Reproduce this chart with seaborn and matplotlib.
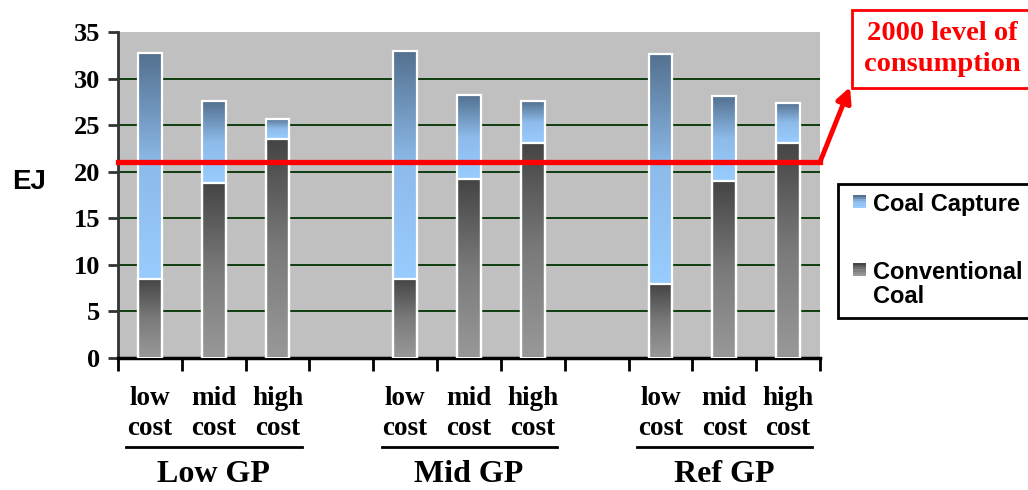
import matplotlib
matplotlib.use("Agg")
import matplotlib.pyplot as plt
import numpy as np
import pandas as pd
import seaborn as sns
from matplotlib.colors import LinearSegmentedColormap
from matplotlib.lines import Line2D
from matplotlib.patches import FancyArrowPatch, Rectangle

# Values (EJ)
GROUPS = ["Low GP", "Mid GP", "Ref GP"]
COSTS = ["low\ncost", "mid\ncost", "high\ncost"]
CONVENTIONAL = [8.5, 18.8, 23.5, 8.5, 19.2, 23.1, 7.9, 19.0, 23.1]
TOTAL = [32.7, 27.6, 25.7, 33.0, 28.2, 27.6, 32.6, 28.1, 27.4]
LEVEL_2000 = 21.0
Y_TICKS = [0, 5, 10, 15, 20, 25, 30, 35]
LEGEND_LABELS = ["Coal Capture", "Conventional\nCoal"]

SERIF = "Liberation Serif"
SANS = "Liberation Sans"
W, H = 1028, 490

capture_cmap = LinearSegmentedColormap.from_list("cap", ["#99CCFF", "#8DBBEA", "#53708F"])
conv_cmap = LinearSegmentedColormap.from_list("conv", ["#999999", "#7A7A7A", "#444444"])


def px(x, y):
    """Pixel position (from top-left) -> figure fraction."""
    return x / W, 1 - y / H


def gradient_fill(ax, patch, y0, y1, cmap):
    x0 = patch.get_x()
    x1 = x0 + patch.get_width()
    grad = np.linspace(0, 1, 256).reshape(-1, 1)
    ax.imshow(grad, cmap=cmap, origin="lower", extent=[x0, x1, y0, y1], aspect="auto", zorder=2)
    patch.set_facecolor("none")
    patch.set_zorder(3)


def legend_swatch(fig, x, y, cmap, size=13, n=6):
    # small square made of stripes, dark at the top
    for k in range(n):
        fx, fy = px(x, y + size - (k + 1) * size / n)
        fig.add_artist(Rectangle((fx, fy), size / W, size / n / H, transform=fig.transFigure,
                                 facecolor=cmap(k / (n - 1)), lw=0))


# slot positions: three bars per group, one empty slot between groups
pos = [g * 4 + b for g in range(len(GROUPS)) for b in range(len(COSTS))]
df = pd.DataFrame({"pos": pos, "total": TOTAL, "conv": CONVENTIONAL})

fig = plt.figure(figsize=(W / 100, H / 100), dpi=100)
ax = fig.add_axes([118 / W, 1 - 358 / H, (820 - 118) / W, (358 - 32) / H])
ax.set_facecolor("#C0C0C0")

for y in Y_TICKS[1:-1]:
    ax.axhline(y, color="#003300", lw=1.3, zorder=1)

sns.barplot(data=df, x="pos", y="total", native_scale=True, width=0.37, color="#99CCFF",
            edgecolor="white", linewidth=1.6, errorbar=None, ax=ax)
n_cap = len(ax.patches)
sns.barplot(data=df, x="pos", y="conv", native_scale=True, width=0.37, color="#777777",
            edgecolor="white", linewidth=1.6, errorbar=None, ax=ax)

cap_patches = ax.patches[:n_cap]
conv_patches = ax.patches[n_cap:]
for p, c, t in zip(cap_patches, CONVENTIONAL, TOTAL):
    gradient_fill(ax, p, c, t, capture_cmap)
for p, c in zip(conv_patches, CONVENTIONAL):
    gradient_fill(ax, p, 0, c, conv_cmap)

ax.set_xlim(-0.5, 10.5)
ax.set_ylim(0, 35)
ax.set_xlabel("")
ax.set_ylabel("")
ax.set_xticks(np.arange(-0.5, 11, 1))
ax.set_xticklabels([])
ax.set_yticks(Y_TICKS)
ax.set_yticklabels([str(v) for v in Y_TICKS], fontfamily=SERIF, fontweight="bold", fontsize=19)
ax.tick_params(axis="x", length=9, width=2, direction="out", color="black")
ax.tick_params(axis="y", length=7, width=2, direction="out", color="#333333", pad=6)
for side in ["top", "right"]:
    ax.spines[side].set_visible(False)
ax.spines["left"].set_linewidth(2)
ax.spines["left"].set_color("#333333")
ax.spines["bottom"].set_linewidth(2.5)

# 2000 consumption line
ax.axhline(LEVEL_2000, color="red", lw=3.8, zorder=5, clip_on=False)

# category labels under the axis
xt = ax.get_xaxis_transform()
for g, grp in enumerate(GROUPS):
    for b, cost in enumerate(COSTS):
        top, bottom = cost.split("\n")
        x = g * 4 + b
        ax.text(x, -47 / 326, top, transform=xt, ha="center", va="baseline",
                fontfamily=SERIF, fontweight="bold", fontsize=19.5)
        ax.text(x, -77 / 326, bottom, transform=xt, ha="center", va="baseline",
                fontfamily=SERIF, fontweight="bold", fontsize=19.5)
    ax.add_line(Line2D([g * 4 - 0.37, g * 4 + 2.38], [-89 / 326, -89 / 326], transform=xt,
                       color="black", lw=2, clip_on=False))
    ax.text(g * 4 + 1, -124 / 326, grp, transform=xt, ha="center", va="baseline",
            fontfamily=SERIF, fontweight="bold", fontsize=23)

fig.text(*px(29, 182), "EJ", ha="center", va="center",
         fontfamily=SANS, fontweight="bold", fontsize=20)

# annotation box and arrow
fig.text(*px(942, 49), "2000 level of\nconsumption", ha="center", va="center",
         color="red", fontfamily=SERIF, fontweight="bold", fontsize=20.5, linespacing=1.3,
         bbox=dict(boxstyle="square,pad=0.4", facecolor="white", edgecolor="red", lw=2))
fig.add_artist(FancyArrowPatch(px(820, 162), px(850, 87),
                               transform=fig.transFigure, arrowstyle="-|>", mutation_scale=22,
                               lw=3.5, color="red", shrinkA=0, shrinkB=0))

# legend, laid out by hand so the swatch sits on the first label line
x0, y0 = px(838, 318)
x1, y1 = px(1045, 184)
fig.add_artist(Rectangle((x0, y0), x1 - x0, y1 - y0, transform=fig.transFigure,
                         facecolor="white", edgecolor="black", lw=2))
legend_swatch(fig, 853, 197, capture_cmap)
legend_swatch(fig, 853, 265, conv_cmap)
fig.text(*px(873, 204), LEGEND_LABELS[0], ha="left", va="center",
         fontfamily=SANS, fontweight="bold", fontsize=17)
fig.text(*px(873, 261), LEGEND_LABELS[1], ha="left", va="top", linespacing=1.05,
         fontfamily=SANS, fontweight="bold", fontsize=17)

fig.savefig("out.png", dpi=100)
